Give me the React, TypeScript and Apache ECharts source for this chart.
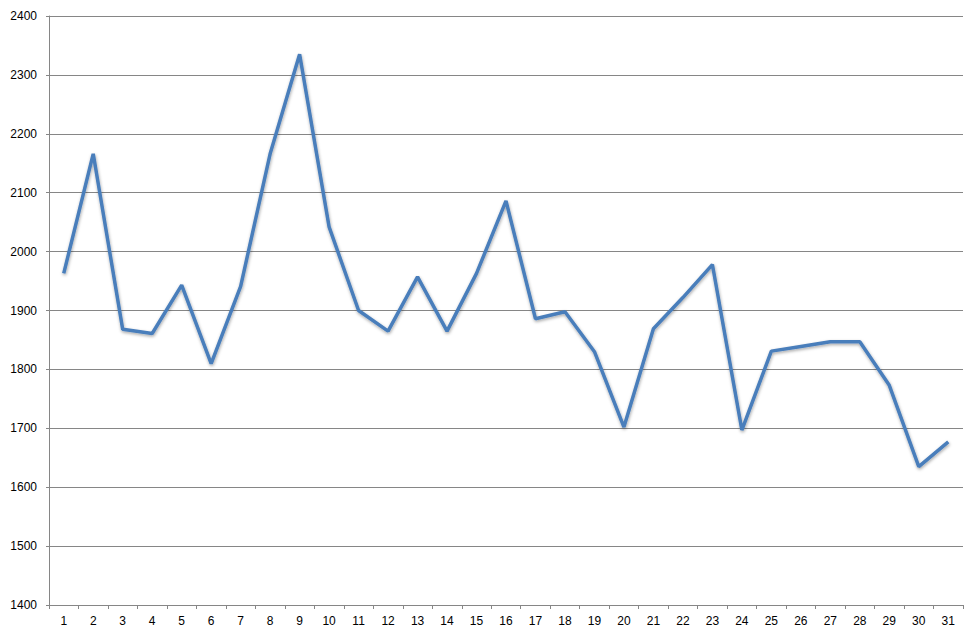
import React, { useEffect, useRef } from "react";
import * as echarts from "echarts";

const categories: string[] = Array.from({ length: 31 }, (_, i) => String(i + 1));
const values: number[] = [
  1963, 2166, 1868, 1861, 1943, 1810, 1941, 2166, 2335, 2042,
  1900, 1865, 1957, 1865, 1963, 2086, 1886, 1898, 1830, 1702,
  1869, 1922, 1978, 1697, 1831, 1839, 1847, 1847, 1773, 1635,
  1677,
];
const yMin = 1400;
const yMax = 2400;
const yStep = 100;

export default function App() {
  const ref = useRef<HTMLDivElement>(null);
  useEffect(() => {
    if (!ref.current) return;
    const chart = echarts.init(ref.current, undefined, { renderer: "svg" });
    const font = "'Liberation Sans', Arial, sans-serif";
    chart.setOption({
      animation: false,
      backgroundColor: "#ffffff",
      grid: { left: 49, right: 15, top: 16, bottom: 34, containLabel: false },
      xAxis: {
        type: "category",
        data: categories,
        boundaryGap: true,
        axisLine: { show: true, lineStyle: { color: "#868686", width: 1 } },
        axisTick: { show: true, length: 4, alignWithLabel: false, lineStyle: { color: "#868686" } },
        axisLabel: { color: "#000000", fontSize: 12, fontFamily: font, margin: 10, interval: 0 },
        splitLine: { show: false },
      },
      yAxis: {
        type: "value",
        min: yMin,
        max: yMax,
        interval: yStep,
        axisLine: { show: true, lineStyle: { color: "#868686", width: 1 } },
        axisTick: { show: true, length: 3, lineStyle: { color: "#868686" } },
        axisLabel: {
          color: "#000000",
          fontSize: 12,
          fontFamily: font,
          margin: 12,
          formatter: (v: number) => String(v),
        },
        splitLine: { show: true, lineStyle: { color: "#868686", width: 1 } },
      },
      series: [
        {
          type: "line",
          data: values,
          symbol: "none",
          lineStyle: {
            color: "#4A7EBB",
            width: 3.5,
            shadowColor: "rgba(0,0,0,0.35)",
            shadowBlur: 3,
            shadowOffsetY: 1.5,
            shadowOffsetX: 0.5,
          },
          itemStyle: { color: "#4A7EBB" },
        },
      ],
    });
    return () => chart.dispose();
  }, []);
  return (
    <div
      ref={ref}
      style={{ position: "fixed", left: 0, top: 0, width: 978, height: 639, background: "#fff" }}
    />
  );
}
